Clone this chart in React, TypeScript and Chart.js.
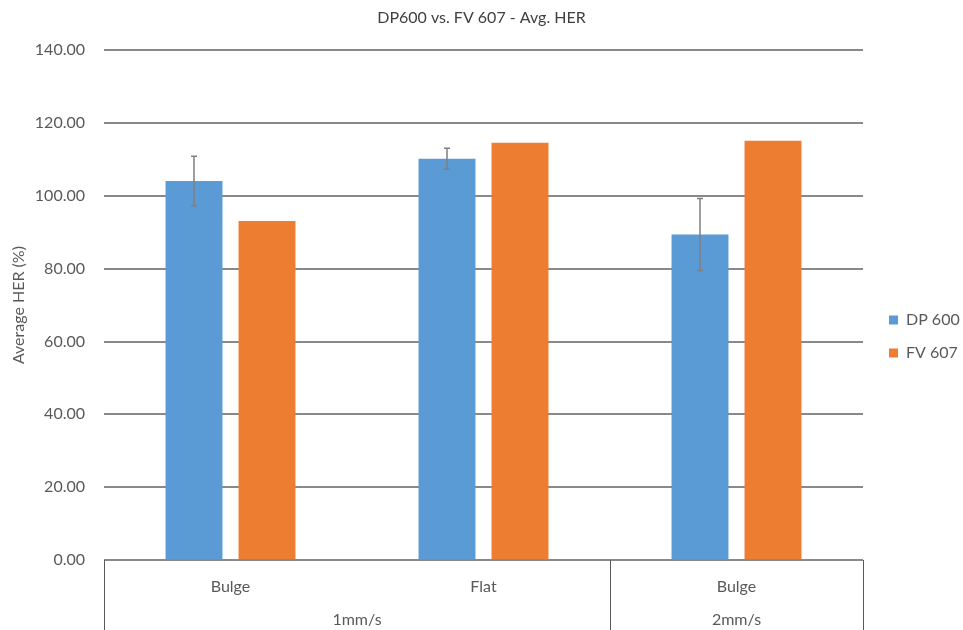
import React, { useEffect, useRef } from "react";
import { Chart, registerables } from "chart.js";

Chart.register(...registerables);

const categories = ["Bulge", "Flat", "Bulge"];
const groupLabels = ["1mm/s", "2mm/s"];
const groupSpans = [2, 1];
const dp600 = [104.1, 110.2, 89.4];
const dp600Err = [6.8, 2.9, 9.9];
const fv607 = [93.1, 114.6, 115.1];
const yTicks = [0, 20, 40, 60, 80, 100, 120, 140];

const FONT = "Lato, 'Open Sans', sans-serif";
const TEXT = "#595959";

const errorBarPlugin = {
  id: "errorBars",
  afterDatasetsDraw(chart: any) {
    const ctx = chart.ctx;
    const y = chart.scales.y;
    const meta = chart.getDatasetMeta(0);
    ctx.save();
    ctx.strokeStyle = "#7f7f7f";
    ctx.lineWidth = 1.5;
    meta.data.forEach((bar: any, i: number) => {
      const v = dp600[i];
      const e = dp600Err[i];
      const yt = y.getPixelForValue(v + e);
      const yb = y.getPixelForValue(v - e);
      ctx.beginPath();
      ctx.moveTo(bar.x, yt);
      ctx.lineTo(bar.x, yb);
      ctx.moveTo(bar.x - 3, yt);
      ctx.lineTo(bar.x + 3, yt);
      ctx.moveTo(bar.x - 3, yb);
      ctx.lineTo(bar.x + 3, yb);
      ctx.stroke();
    });
    ctx.restore();
  },
};

const groupAxisPlugin = {
  id: "groupAxis",
  afterDraw(chart: any) {
    const ctx = chart.ctx;
    const x = chart.scales.x;
    const area = chart.chartArea;
    const bottom = chart.height;
    const bounds: number[] = [x.left];
    let idx = 0;
    groupSpans.forEach((span) => {
      idx += span;
      if (idx < categories.length) {
        bounds.push((x.getPixelForValue(idx - 1) + x.getPixelForValue(idx)) / 2);
      } else {
        bounds.push(x.right);
      }
    });
    ctx.save();
    ctx.strokeStyle = "#595959";
    ctx.lineWidth = 1;
    bounds.forEach((bx) => {
      const px = Math.round(bx) + 0.5;
      ctx.beginPath();
      ctx.moveTo(px, area.bottom);
      ctx.lineTo(px, bottom);
      ctx.stroke();
    });
    ctx.fillStyle = TEXT;
    ctx.font = `16px ${FONT}`;
    ctx.textAlign = "center";
    ctx.textBaseline = "middle";
    groupLabels.forEach((lbl, g) => {
      ctx.fillText(lbl, (bounds[g] + bounds[g + 1]) / 2, 620);
    });
    ctx.restore();
  },
};

const legendWidthPlugin = {
  id: "legendWidth",
  beforeInit(chart: any) {
    const legend = chart.legend;
    if (!legend) return;
    const orig = legend.fit;
    legend.fit = function () {
      orig.call(this);
      this.width = 100;
    };
  },
  afterLayout(chart: any) {
    const legend = chart.legend;
    if (!legend) return;
    legend.left += 9;
    legend.top += 43;
  },
};

export default function App() {
  const ref = useRef<HTMLCanvasElement>(null);
  useEffect(() => {
    if (!ref.current) return;
    const chart = new Chart(ref.current, {
      type: "bar",
      data: {
        labels: categories,
        datasets: [
          {
            label: "DP 600",
            data: dp600,
            backgroundColor: "#5B9BD5",
            categoryPercentage: 0.577,
            barPercentage: 0.78,
          },
          {
            label: "FV 607",
            data: fv607,
            backgroundColor: "#ED7D31",
            categoryPercentage: 0.577,
            barPercentage: 0.78,
          },
        ],
      },
      options: {
        animation: false,
        responsive: true,
        maintainAspectRatio: false,
        layout: { padding: { top: 0, right: 0, bottom: 0, left: 0 } },
        plugins: {
          title: {
            display: true,
            text: "DP600 vs. FV 607 - Avg. HER",
            color: "#404040",
            font: { family: FONT, size: 16, weight: "normal" },
            padding: { top: 8, bottom: 23 },
          },
          legend: {
            position: "right",
            labels: {
              color: TEXT,
              font: { family: FONT, size: 16 },
              boxWidth: 9,
              boxHeight: 9,
              padding: 17,
            },
          },
          tooltip: { enabled: false },
        },
        scales: {
          x: {
            grid: { display: false },
            border: { display: false },
            ticks: {
              color: TEXT,
              font: { family: FONT, size: 16 },
              padding: 9,
            },
            afterFit(scale: any) {
              scale.height = 70;
            },
          },
          y: {
            min: 0,
            max: 140,
            afterBuildTicks(scale: any) {
              scale.ticks = yTicks.map((v) => ({ value: v }));
            },
            grid: { color: "#898989", lineWidth: 2, drawTicks: false },
            border: { display: false },
            ticks: {
              color: TEXT,
              font: { family: FONT, size: 16 },
              padding: 19,
              callback: (v: any) => Number(v).toFixed(2),
            },
            title: {
              display: true,
              text: "Average HER (%)",
              color: TEXT,
              font: { family: FONT, size: 16 },
              padding: { top: 9, bottom: 0 },
            },
            afterFit(scale: any) {
              scale.width = 104;
            },
          },
        },
      },
      plugins: [errorBarPlugin, groupAxisPlugin, legendWidthPlugin],
    });
    return () => chart.destroy();
  }, []);
  return (
    <div
      style={{
        position: "fixed",
        left: 0,
        top: 0,
        width: 963,
        height: 630,
        background: "#fff",
      }}
    >
      <canvas ref={ref} />
    </div>
  );
}
